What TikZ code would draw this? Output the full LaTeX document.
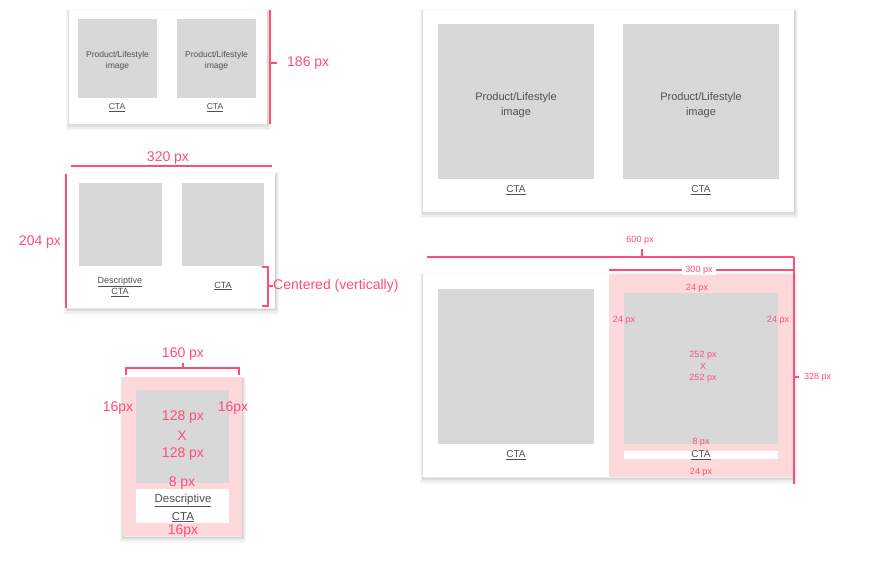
\documentclass[tikz,border=0pt]{standalone}
\usepackage{fontspec}
\setmainfont{Liberation Sans}
\definecolor{accent}{RGB}{255,77,120}
\definecolor{pinkfill}{RGB}{253,217,219}
\definecolor{imggray}{RGB}{216,216,216}
\definecolor{txtgray}{RGB}{80,80,80}
\tikzset{
 box/.style={anchor=north west, inner sep=0pt, outer sep=0pt},
 softshadow/.style={
   preaction={draw=black, draw opacity=0.03, line width=7pt, transform canvas={xshift=0.5pt, yshift=-3pt}},
   preaction={draw=black, draw opacity=0.04, line width=4.5pt, transform canvas={xshift=0.5pt, yshift=-2.5pt}},
   preaction={draw=black, draw opacity=0.06, line width=2.5pt, transform canvas={xshift=0.5pt, yshift=-1.8pt}},
   preaction={draw=black, draw opacity=0.05, line width=1pt, transform canvas={xshift=0.3pt, yshift=-1pt}}},
 card/.style={box, softshadow, fill=white},
 pinkcard/.style={box, softshadow, fill=pinkfill},
 img/.style={box, fill=imggray},
 wbox/.style={box, fill=white},
 pinkbox/.style={box, fill=pinkfill},
 dim/.style={draw=accent, line width=1.1pt},
 lbl/.style={text=accent, inner sep=0pt, font=\fontsize{14}{16}\selectfont},
 slbl/.style={text=accent, inner sep=0pt, font=\fontsize{9}{10}\selectfont},
 cta/.style={text=txtgray, inner sep=0pt, align=center},
}
\begin{document}
\begin{tikzpicture}[x=1pt,y=-1pt]
\useasboundingbox[fill=white] (0,0) rectangle (876,572);

% ---------- card 1 (top left) ----------
\node[card, minimum width=198pt, minimum height=114pt] (c1) at (69,10) {};
\node[img, minimum width=79pt, minimum height=79pt] (c1i1) at (78,19) {};
\node[img, minimum width=79pt, minimum height=79pt] (c1i2) at (177,19) {};
\node[cta, font=\fontsize{8.5}{11}\selectfont] (c1t1) at ([yshift=-2pt]c1i1.center) {Product/Lifestyle\\image};
\node[cta, font=\fontsize{8.5}{11}\selectfont] (c1t2) at ([yshift=-2pt]c1i2.center) {Product/Lifestyle\\image};
\node[cta, font=\fontsize{8.5}{11}\selectfont] (c1a1) at (117,108) {\underline{CTA}};
\node[cta, font=\fontsize{8.5}{11}\selectfont] (c1a2) at (215,108) {\underline{CTA}};
\coordinate (d1a) at (270,10);
\coordinate (d1b) at (270,124);
\coordinate (d1m) at (270,63);
\coordinate (d1t) at (277,63);
\draw[dim] (d1a) -- (d1b);
\draw[dim] (d1m) -- (d1t);
\node[lbl, anchor=west] (l186) at (287,63) {186 px};

% ---------- card 2 (middle left) ----------
\node[card, minimum width=208pt, minimum height=135pt] (c2) at (67,173) {};
\node[img, minimum width=83pt, minimum height=83pt] (c2i1) at (79,183) {};
\node[img, minimum width=82pt, minimum height=83pt] (c2i2) at (182,183) {};
\node[cta, font=\fontsize{9}{11}\selectfont] (c2a1) at (120,286.5) {\underline{Descriptive}\\\underline{CTA}};
\node[cta, font=\fontsize{9}{11}\selectfont] (c2a2) at (223,286) {\underline{CTA}};
\coordinate (d2a) at (71,166);
\coordinate (d2b) at (272,166);
\draw[dim] (d2a) -- (d2b);
\node[lbl] (l320) at (168,158) {320 px};
\coordinate (d3a) at (66,174);
\coordinate (d3b) at (66,308);
\draw[dim] (d3a) -- (d3b);
\node[lbl] (l204) at (40,242) {204 px};
\coordinate (b1) at (262,267);
\coordinate (b2) at (268,267);
\coordinate (b3) at (268,306);
\coordinate (b4) at (262,306);
\coordinate (bm) at (268,286);
\coordinate (bt) at (273,286);
\draw[dim] (b1) -- (b2) -- (b3) -- (b4);
\draw[dim] (bm) -- (bt);
\node[lbl, anchor=west] (lcent) at (273,286) {Centered (vertically)};

% ---------- card 3 (bottom left) ----------
\node[pinkcard, minimum width=119pt, minimum height=159pt] (c3) at (123,377) {};
\node[img, minimum width=93pt, minimum height=93pt] (c3i) at (136,390) {};
\node[wbox, minimum width=93pt, minimum height=34pt] (c3w) at (136,489) {};
\node[cta, font=\fontsize{11.5}{18}\selectfont] (c3a) at (183,508) {\underline{Descriptive}\\\underline{CTA}};
\coordinate (e1) at (126,375);
\coordinate (e2) at (126,368);
\coordinate (e3) at (239,368);
\coordinate (e4) at (239,375);
\coordinate (em) at (183,368);
\coordinate (et) at (183,363);
\draw[dim] (e1) -- (e2) -- (e3) -- (e4);
\draw[dim] (em) -- (et);
\node[lbl] (l160) at (183,354) {160 px};
\node[lbl] (l16l) at (118,408) {16px};
\node[lbl] (l16r) at (233,408) {16px};
\node[lbl] (l128a) at (183,417) {128 px};
\node[lbl] (lx1) at (182,436) {X};
\node[lbl] (l128b) at (183,454) {128 px};
\node[lbl] (l8a) at (182,483) {8 px};
\node[lbl] (l16b) at (183,531) {16px};

% ---------- card 4 (top right) ----------
\node[card, minimum width=371pt, minimum height=202pt] (c4) at (423,10) {};
\node[img, minimum width=156pt, minimum height=155pt] (c4i1) at (438,24) {};
\node[img, minimum width=156pt, minimum height=155pt] (c4i2) at (623,24) {};
\node[cta, font=\fontsize{11}{15}\selectfont] (c4t1) at ([yshift=-4pt]c4i1.center) {Product/Lifestyle\\image};
\node[cta, font=\fontsize{11}{15}\selectfont] (c4t2) at ([yshift=-4pt]c4i2.center) {Product/Lifestyle\\image};
\node[cta, font=\fontsize{10}{12}\selectfont] (c4a1) at (516,190) {\underline{CTA}};
\node[cta, font=\fontsize{10}{12}\selectfont] (c4a2) at (701,190) {\underline{CTA}};

% ---------- card 5 (bottom right) ----------
\node[card, minimum width=370pt, minimum height=203pt] (c5) at (423,274) {};
\node[pinkbox, minimum width=184pt, minimum height=203pt] (c5p) at (609,274) {};
\node[img, minimum width=156pt, minimum height=155pt] (c5i1) at (438,289) {};
\node[img, minimum width=154pt, minimum height=151pt] (c5i2) at (624,293) {};
\node[wbox, minimum width=154pt, minimum height=8pt] (c5w) at (624,451) {};
\node[cta, font=\fontsize{10}{12}\selectfont] (c5a1) at (516,455) {\underline{CTA}};
\node[cta, font=\fontsize{10}{12}\selectfont] (c5a2) at (701,455) {\underline{CTA}};
\node[slbl] (l24t) at (697,288) {24 px};
\node[slbl] (l24l) at (624,320) {24 px};
\node[slbl] (l24r) at (778,320) {24 px};
\node[slbl] (l252a) at (703,355) {252 px};
\node[slbl] (lx2) at (703,366) {X};
\node[slbl] (l252b) at (703,378) {252 px};
\node[slbl] (l8b) at (701,442) {8 px};
\node[slbl] (l24b) at (701,472) {24 px};
\coordinate (f1) at (427,257);
\coordinate (f2) at (794,257);
\coordinate (fm) at (642,257);
\coordinate (ft) at (642,249);
\draw[dim] (f1) -- (f2);
\draw[dim] (fm) -- (ft);
\node[slbl] (l600) at (640,240) {600 px};
\coordinate (g1) at (609,270);
\coordinate (g2) at (794,270);
\draw[dim] (g1) -- (g2);
\node[slbl, fill=white, inner xsep=3pt, inner ysep=1pt] (l300) at (699,270) {300 px};
\coordinate (h1) at (794,257);
\coordinate (h2) at (794,484);
\coordinate (hm) at (794,377);
\coordinate (ht) at (799,377);
\draw[dim] (h1) -- (h2);
\draw[dim] (hm) -- (ht);
\node[slbl, anchor=west] (l328) at (804,377) {328 px};
\end{tikzpicture}
\end{document}
